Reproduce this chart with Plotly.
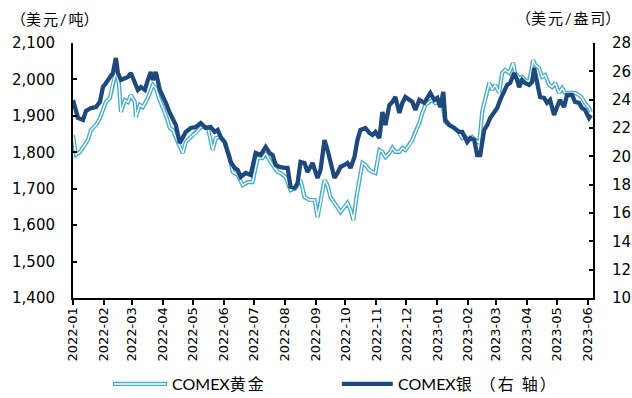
import plotly.graph_objects as go

# ---- data ----
gold_dates = [
    "2022-01-01", "2022-01-04", "2022-01-08", "2022-01-11", "2022-01-16", "2022-01-19", "2022-01-24",
    "2022-01-28", "2022-01-31", "2022-02-03", "2022-02-07", "2022-02-10", "2022-02-13", "2022-02-16",
    "2022-02-18", "2022-02-22", "2022-02-25", "2022-02-28", "2022-03-04", "2022-03-05", "2022-03-09",
    "2022-03-12", "2022-03-17", "2022-03-22", "2022-03-25", "2022-03-28", "2022-04-01", "2022-04-04",
    "2022-04-08", "2022-04-11", "2022-04-16", "2022-04-21", "2022-04-24", "2022-04-29", "2022-05-04",
    "2022-05-09", "2022-05-16", "2022-05-21", "2022-05-24", "2022-05-28", "2022-06-02", "2022-06-07",
    "2022-06-10", "2022-06-15", "2022-06-20", "2022-06-25", "2022-06-30", "2022-07-05", "2022-07-10",
    "2022-07-13", "2022-07-18", "2022-07-25", "2022-07-28", "2022-08-02", "2022-08-07", "2022-08-12",
    "2022-08-17", "2022-08-21", "2022-08-26", "2022-08-31", "2022-09-03", "2022-09-06", "2022-09-10",
    "2022-09-13", "2022-09-16", "2022-09-20", "2022-09-23", "2022-09-26", "2022-09-30", "2022-10-03",
    "2022-10-06", "2022-10-09", "2022-10-12", "2022-10-15", "2022-10-18", "2022-10-21", "2022-10-25",
    "2022-10-28", "2022-10-31", "2022-11-04", "2022-11-07", "2022-11-10", "2022-11-14", "2022-11-17",
    "2022-11-20", "2022-11-24", "2022-11-27", "2022-11-30", "2022-12-04", "2022-12-07", "2022-12-10",
    "2022-12-14", "2022-12-17", "2022-12-20", "2022-12-24", "2022-12-27", "2022-12-30", "2023-01-03",
    "2023-01-06", "2023-01-09", "2023-01-13", "2023-01-18", "2023-01-23", "2023-01-26", "2023-01-29",
    "2023-02-02", "2023-02-05", "2023-02-08", "2023-02-12", "2023-02-15", "2023-02-18", "2023-02-22",
    "2023-02-25", "2023-02-28", "2023-03-04", "2023-03-07", "2023-03-10", "2023-03-14", "2023-03-18",
    "2023-03-20", "2023-03-24", "2023-03-27", "2023-03-30", "2023-04-03", "2023-04-07", "2023-04-09",
    "2023-04-13", "2023-04-16", "2023-04-19", "2023-04-23", "2023-04-26", "2023-04-29", "2023-05-03",
    "2023-05-06", "2023-05-09", "2023-05-13", "2023-05-16", "2023-05-19", "2023-05-23", "2023-05-26",
    "2023-05-29", "2023-06-02", "2023-06-04",
]
gold_values = [
    1847, 1793, 1801, 1814, 1834, 1861, 1875,
    1894, 1916, 1938, 1949, 1990, 2020, 1990,
    1911, 1943, 1938, 1957, 1938, 1897, 1930,
    1924, 1949, 1985, 1976, 1949, 1922, 1902,
    1867, 1861, 1828, 1798, 1828, 1842, 1853,
    1869, 1869, 1806, 1839, 1842, 1828, 1787,
    1746, 1738, 1710, 1718, 1718, 1784, 1784,
    1798, 1773, 1746, 1743, 1732, 1696, 1702,
    1724, 1677, 1669, 1669, 1622, 1661, 1724,
    1710, 1677, 1661, 1650, 1636, 1650, 1661,
    1642, 1614, 1677, 1724, 1771, 1765, 1751,
    1746, 1743, 1806, 1801, 1787, 1798, 1812,
    1801, 1801, 1812, 1806, 1820, 1834, 1856,
    1880, 1908, 1930, 1938, 1943, 1935, 1938,
    1935, 1883, 1875, 1867, 1853, 1839, 1842,
    1834, 1842, 1834, 1825, 1911, 1949, 1990,
    1971, 1985, 1963, 2018, 2026, 2018, 2045,
    2018, 2004, 2007, 1998, 1993, 2053, 2040,
    2031, 2007, 2012, 1985, 1979, 1990, 1963,
    1976, 1963, 1963, 1965, 1963, 1957, 1949,
    1935, 1922, 1911,
]

silver_dates = [
    "2022-01-01", "2022-01-04", "2022-01-06", "2022-01-11", "2022-01-14", "2022-01-19", "2022-01-24",
    "2022-01-28", "2022-01-31", "2022-02-03", "2022-02-07", "2022-02-10", "2022-02-13", "2022-02-15",
    "2022-02-18", "2022-02-22", "2022-02-25", "2022-02-28", "2022-03-04", "2022-03-07", "2022-03-10",
    "2022-03-14", "2022-03-17", "2022-03-20", "2022-03-22", "2022-03-25", "2022-03-29", "2022-04-01",
    "2022-04-04", "2022-04-08", "2022-04-11", "2022-04-14", "2022-04-18", "2022-04-21", "2022-04-24",
    "2022-04-29", "2022-05-04", "2022-05-09", "2022-05-14", "2022-05-19", "2022-05-23", "2022-05-26",
    "2022-05-29", "2022-06-02", "2022-06-05", "2022-06-08", "2022-06-12", "2022-06-15", "2022-06-18",
    "2022-06-23", "2022-06-28", "2022-07-03", "2022-07-08", "2022-07-13", "2022-07-17", "2022-07-20",
    "2022-07-23", "2022-07-27", "2022-08-01", "2022-08-04", "2022-08-07", "2022-08-11", "2022-08-14",
    "2022-08-17", "2022-08-21", "2022-08-24", "2022-08-29", "2022-09-03", "2022-09-06", "2022-09-10",
    "2022-09-13", "2022-09-16", "2022-09-20", "2022-09-23", "2022-09-26", "2022-09-30", "2022-10-03",
    "2022-10-06", "2022-10-10", "2022-10-13", "2022-10-16", "2022-10-21", "2022-10-25", "2022-10-28",
    "2022-10-31", "2022-11-04", "2022-11-07", "2022-11-10", "2022-11-14", "2022-11-17", "2022-11-20",
    "2022-11-24", "2022-11-27", "2022-11-30", "2022-12-04", "2022-12-07", "2022-12-10", "2022-12-14",
    "2022-12-19", "2022-12-22", "2022-12-25", "2022-12-29", "2023-01-01", "2023-01-04", "2023-01-07",
    "2023-01-09", "2023-01-13", "2023-01-18", "2023-01-23", "2023-01-26", "2023-01-31", "2023-02-03",
    "2023-02-07", "2023-02-10", "2023-02-13", "2023-02-17", "2023-02-20", "2023-02-23", "2023-02-27",
    "2023-03-02", "2023-03-05", "2023-03-09", "2023-03-12", "2023-03-15", "2023-03-19", "2023-03-22",
    "2023-03-24", "2023-03-27", "2023-03-30", "2023-04-03", "2023-04-06", "2023-04-08", "2023-04-11",
    "2023-04-14", "2023-04-18", "2023-04-21", "2023-04-24", "2023-04-28", "2023-05-01", "2023-05-04",
    "2023-05-08", "2023-05-11", "2023-05-16", "2023-05-19", "2023-05-23", "2023-05-26", "2023-05-29",
    "2023-06-02", "2023-06-04",
]
silver_values = [
    23.98, 23.13, 22.71, 22.57, 23.20, 23.41, 23.48,
    23.84, 24.89, 25.18, 25.60, 25.88, 26.94, 25.88,
    25.39, 25.53, 25.60, 25.88, 25.18, 24.68, 24.89,
    24.68, 25.39, 25.95, 25.39, 25.95, 24.68, 24.12,
    23.77, 23.06, 22.57, 22.21, 20.94, 21.36, 21.72,
    22.00, 22.07, 22.35, 22.00, 22.07, 21.72, 21.86,
    21.36, 21.01, 20.24, 19.60, 19.18, 19.04, 18.54,
    18.82, 18.68, 20.24, 20.09, 20.66, 20.24, 20.09,
    19.39, 19.25, 19.18, 19.18, 17.84, 17.76, 18.12,
    19.60, 19.53, 18.89, 19.53, 18.47, 19.04, 21.15,
    20.45, 19.53, 18.47, 18.82, 19.25, 19.39, 19.53,
    19.18, 19.95, 21.15, 21.86, 22.00, 21.65, 21.51,
    21.72, 21.29, 23.13, 22.21, 23.62, 23.84, 24.19,
    23.06, 23.77, 24.19, 23.98, 23.84, 23.27, 23.98,
    23.77, 24.19, 24.47, 23.98, 24.12, 23.48, 24.54,
    22.57, 22.21, 22.00, 21.72, 21.72, 21.01, 21.29,
    21.15, 20.09, 20.09, 21.86, 22.21, 22.71, 23.13,
    23.41, 23.98, 24.68, 25.04, 25.18, 25.88, 25.39,
    24.89, 25.39, 25.18, 25.04, 25.25, 26.24, 25.18,
    24.19, 24.12, 23.77, 23.98, 22.92, 23.48, 23.98,
    23.48, 24.33, 24.33, 23.84, 23.77, 23.41, 23.27,
    22.71, 22.92,
]

gold_name = "COMEX黄\u2009金"
silver_name = "COMEX银\u2002（\u2009右\u2002轴\u2009）"
left_unit = "（美\u2009元\u2009/\u2009吨）"
right_unit = "（美\u2009元\u2009/\u2009盎\u2009司）"

GOLD = "#4BACC6"
SILVER = "#1F497D"
TICKFONT = "'DejaVu Sans', sans-serif"
TEXTFONT = "Lato, 'Noto Sans CJK SC', sans-serif"

fig = go.Figure()
# gold drawn as a double line: coloured outer stroke + white core
fig.add_trace(go.Scatter(x=gold_dates, y=gold_values, mode="lines", name=gold_name,
                         line=dict(color=GOLD, width=4.2), showlegend=False, hoverinfo="skip"))
fig.add_trace(go.Scatter(x=gold_dates, y=gold_values, mode="lines", name=gold_name,
                         line=dict(color="white", width=1.4), showlegend=False))
fig.add_trace(go.Scatter(x=silver_dates, y=silver_values, mode="lines", name=silver_name,
                         yaxis="y2", line=dict(color=SILVER, width=4.3), showlegend=False))

axis_common = dict(showline=True, linecolor="black", linewidth=2, showgrid=False,
                   zeroline=False, tickcolor="black", automargin=False)

fig.update_layout(
    width=632, height=398,
    margin=dict(l=73, r=39, t=43, b=100),
    paper_bgcolor="white", plot_bgcolor="white",
    showlegend=False,
    xaxis=dict(type="date", range=["2022-01-01", "2023-06-06"], dtick="M1",
               tick0="2022-01-01", tickformat="%Y-%m", tickangle=-90,
               ticks="outside", ticklen=5, tickwidth=1.5, ticklabelstandoff=-3,
               tickfont=dict(family=TICKFONT, size=13, color="black"), **axis_common),
    yaxis=dict(range=[1400, 2100], dtick=100, tickformat=",", ticks="inside",
               ticklen=4, tickwidth=1.5, ticklabelstandoff=13,
               tickfont=dict(family=TICKFONT, size=15, color="black"), **axis_common),
    yaxis2=dict(range=[10, 28], dtick=2, overlaying="y", side="right", ticks="inside",
                ticklen=4, tickwidth=1.5, ticklabelstandoff=14,
                tickfont=dict(family=TICKFONT, size=15, color="black"), **axis_common),
)

# axis unit labels
fig.add_annotation(text=left_unit, xref="paper", yref="paper", x=-0.035, y=1.094,
                   xanchor="center", yanchor="middle", showarrow=False,
                   font=dict(family=TEXTFONT, size=15, color="black"))
fig.add_annotation(text=right_unit, xref="paper", yref="paper", x=0.952, y=1.098,
                   xanchor="center", yanchor="middle", showarrow=False,
                   font=dict(family=TEXTFONT, size=15, color="black"))

# manual legend (paper coords relative to plot area)
ly = -0.337
fig.add_shape(type="line", xref="paper", yref="paper", x0=0.077, x1=0.181, y0=ly, y1=ly,
              line=dict(color=GOLD, width=4.2))
fig.add_shape(type="line", xref="paper", yref="paper", x0=0.079, x1=0.179, y0=ly, y1=ly,
              line=dict(color="white", width=1.4))
fig.add_annotation(text=gold_name, xref="paper", yref="paper", x=0.186, y=ly,
                   xanchor="left", yanchor="middle", showarrow=False,
                   font=dict(family=TEXTFONT, size=16, color="black"))
fig.add_shape(type="line", xref="paper", yref="paper", x0=0.517, x1=0.615, y0=ly, y1=ly,
              line=dict(color=SILVER, width=4.3))
fig.add_annotation(text=silver_name, xref="paper", yref="paper", x=0.621, y=ly,
                   xanchor="left", yanchor="middle", showarrow=False,
                   font=dict(family=TEXTFONT, size=16, color="black"))

# remove the browser's default 8px page margin so the figure fills the window exactly
fig.write_html(
    "out.html",
    config={"displayModeBar": False},
    post_script="document.body.style.margin='0';document.body.style.overflow='hidden';",
)
